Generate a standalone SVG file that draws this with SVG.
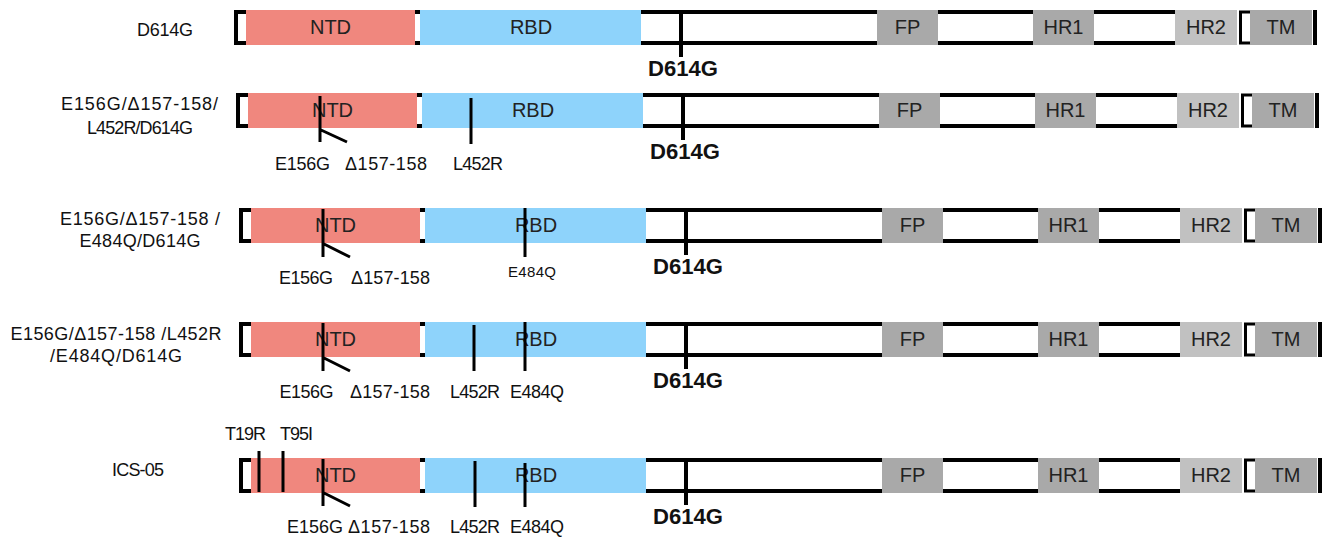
<svg xmlns="http://www.w3.org/2000/svg" width="1325" height="538" viewBox="0 0 1325 538">
<defs>
<style>
text{font-family:"Liberation Sans",Arial,sans-serif;fill:#111}
.lab{font-size:18px}
.mut{font-size:18px;text-anchor:middle}
.dom{font-size:20px;text-anchor:middle;fill:#222}
.d614{font-size:22px;font-weight:bold;text-anchor:middle}
.ntd{fill:#F0877E}
.rbd{fill:#8ED3FB}
.gry{fill:#A9A9A9}
.hr2{fill:#C1C1C1}
.ln{stroke:#000;stroke-width:4;fill:none}
.tk{stroke:#000;stroke-width:3;fill:none}
</style>
<g id="bar">
<path class="ln" d="M246,2 H236 V33 H246"/>
<rect class="ntd" x="246" y="0" width="169" height="35"/>
<rect x="415" y="0" width="5" height="4"/>
<rect x="415" y="31" width="5" height="4"/>
<rect class="rbd" x="420" y="0" width="221" height="35"/>
<path class="ln" d="M641,2 H877 M641,33 H877 M938,2 H1033 M938,33 H1033 M1094,2 H1175 M1094,33 H1175"/>
<rect class="gry" x="877" y="0" width="61" height="35"/>
<rect class="gry" x="1033" y="0" width="61" height="35"/>
<rect class="hr2" x="1175" y="0" width="62" height="35"/>
<path class="tk" d="M1250,2 H1240.5 V33 H1250"/>
<rect class="gry" x="1250" y="0" width="62" height="35"/>
<path class="ln" d="M1315,0 V35"/>
<text class="dom" x="330.5" y="24">NTD</text>
<text class="dom" x="531" y="24">RBD</text>
<text class="dom" x="907.5" y="24">FP</text>
<text class="dom" x="1063.5" y="24">HR1</text>
<text class="dom" x="1206" y="24">HR2</text>
<text class="dom" x="1281" y="24">TM</text>
<path class="ln" d="M681,0 V47"/>
<text class="d614" x="683" y="66" textLength="70" lengthAdjust="spacingAndGlyphs">D614G</text>
</g>
</defs>

<g id="row-labels">
<text class="lab" x="165" y="36" text-anchor="middle" textLength="56" lengthAdjust="spacing">D614G</text>
<text class="lab" x="139.5" y="110" text-anchor="middle" textLength="157" lengthAdjust="spacing">E156G/Δ157-158/</text>
<text class="lab" x="140" y="134" text-anchor="middle" textLength="106" lengthAdjust="spacing">L452R/D614G</text>
<text class="lab" x="140" y="225" text-anchor="middle" textLength="160" lengthAdjust="spacing">E156G/Δ157-158 /</text>
<text class="lab" x="140" y="247" text-anchor="middle" textLength="121" lengthAdjust="spacing">E484Q/D614G</text>
<text class="lab" x="116" y="340" text-anchor="middle" textLength="211" lengthAdjust="spacing">E156G/Δ157-158 /L452R</text>
<text class="lab" x="116" y="362" text-anchor="middle" textLength="132" lengthAdjust="spacing">/E484Q/D614G</text>
<text class="lab" x="138" y="476" text-anchor="middle" textLength="52" lengthAdjust="spacing">ICS-05</text>
</g>

<g id="row1" transform="translate(0,10)">
<use href="#bar"/>
</g>

<g id="row2" transform="translate(2,93)">
<use href="#bar"/>
<g id="row2-mutations">
<path class="tk" d="M318,3 V49 M319,37 L345,49 M469,5 V51"/>
<text class="mut" x="300.5" y="77" textLength="55" lengthAdjust="spacing">E156G</text>
<text class="mut" x="384" y="77" textLength="82" lengthAdjust="spacing">Δ157-158</text>
<text class="mut" x="476" y="77" textLength="50" lengthAdjust="spacing">L452R</text>
</g>
</g>

<g id="row3" transform="translate(5,208)">
<use href="#bar"/>
<g id="row3-mutations">
<path class="tk" d="M318,1 V49 M319,36 L345,49 M520,0 V49"/>
<text class="mut" x="301" y="76" textLength="54" lengthAdjust="spacing">E156G</text>
<text class="mut" x="385.5" y="76" textLength="79" lengthAdjust="spacing">Δ157-158</text>
<text class="mut" x="527" y="69" style="font-size:15px" textLength="48" lengthAdjust="spacing">E484Q</text>
</g>
</g>

<g id="row4" transform="translate(5,322)">
<use href="#bar"/>
<g id="row4-mutations">
<path class="tk" d="M318,1 V49 M319,36 L345,49 M469,3 V49 M520,0 V49"/>
<text class="mut" x="301.5" y="76" textLength="54" lengthAdjust="spacing">E156G</text>
<text class="mut" x="385" y="76" textLength="80" lengthAdjust="spacing">Δ157-158</text>
<text class="mut" x="470" y="76" textLength="50" lengthAdjust="spacing">L452R</text>
<text class="mut" x="532" y="76" textLength="54" lengthAdjust="spacing">E484Q</text>
</g>
</g>

<g id="row5" transform="translate(5,458)">
<use href="#bar"/>
<g id="row5-mutations">
<path class="tk" d="M254,-7 V34 M278,-7 V34 M318,1 V48 M319,35 L345,48 M470,3 V49 M520,5 V49"/>
<text class="mut" x="240.5" y="-18" textLength="41" lengthAdjust="spacing">T19R</text>
<text class="mut" x="291.5" y="-18" textLength="33" lengthAdjust="spacing">T95I</text>
<text class="mut" x="310" y="75" textLength="56" lengthAdjust="spacing">E156G</text>
<text class="mut" x="384" y="75" textLength="82" lengthAdjust="spacing">Δ157-158</text>
<text class="mut" x="470" y="75" textLength="50" lengthAdjust="spacing">L452R</text>
<text class="mut" x="532" y="75" textLength="54" lengthAdjust="spacing">E484Q</text>
</g>
</g>
</svg>
